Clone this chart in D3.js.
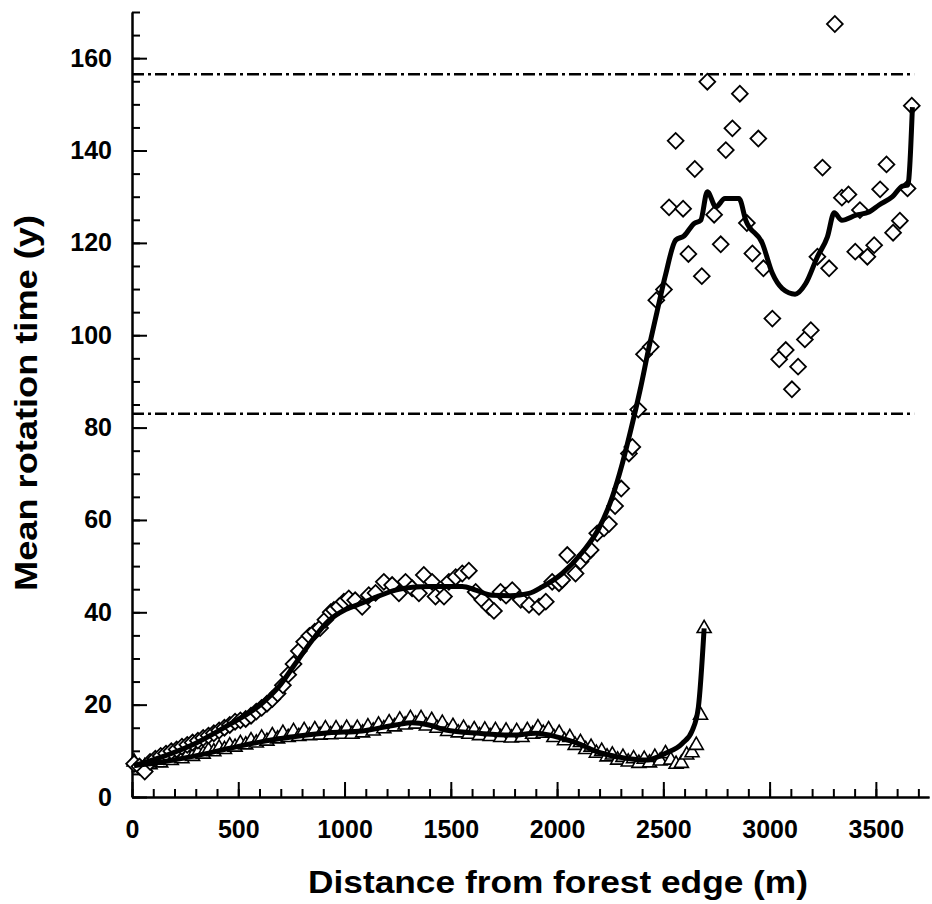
<!DOCTYPE html>
<html>
<head>
<meta charset="utf-8">
<script src="https://cdn.jsdelivr.net/npm/d3@7"></script>
<style>
  body { margin: 0; background: #fff; }
  svg text { font-family: "Liberation Sans", Arial, sans-serif; font-weight: bold; fill: #000; }
</style>
</head>
<body>
<div id="chart"></div>
<script>
// diamonds: upper series
let diamondX = [10, 35, 60, 85, 110, 135, 160, 185, 210, 235, 260, 285, 310, 335, 360, 385, 410, 435, 460, 485,
  510, 535, 560, 585, 610, 635, 660, 685, 710, 735, 760, 785, 810, 835, 860, 885, 910, 935,
  950, 973, 997, 1020, 1050, 1083, 1114, 1146, 1185, 1224, 1256, 1287, 1318, 1350, 1373, 1412, 1428, 1468,
  1491, 1523, 1554, 1585, 1617, 1648, 1680, 1703, 1734, 1760, 1789, 1829, 1868, 1915, 1947, 1977, 2009, 2024,
  2048, 2087, 2110, 2135, 2158, 2189, 2221, 2244, 2273, 2302, 2338, 2354, 2382, 2409, 2441, 2467, 2503, 2527,
  2558, 2593, 2618, 2648, 2681, 2707, 2739, 2770, 2794, 2825, 2860, 2893, 2919, 2947, 2971, 3013, 3045, 3076,
  3105, 3134, 3166, 3194, 3225, 3249, 3280, 3307, 3340, 3371, 3403, 3425, 3460, 3492, 3520, 3550, 3581, 3613,
  3649, 3669]
let diamondY = [7.2, 6.6, 5.5, 7.6, 8.3, 8.9, 9.4, 9.9, 10.3, 10.9, 11.3, 11.8, 12.2, 12.8, 13.3, 13.8, 14.4, 15.0, 15.6, 16.3,
  16.6, 16.9, 17.6, 18.5, 19.3, 20.2, 21.2, 22.4, 24.2, 26.5, 28.8, 31.6, 33.6, 34.9, 35.8, 36.6, 38.4, 40.0,
  40.5, 41.2, 42.3, 43.0, 42.6, 41.2, 43.7, 44.2, 46.6, 45.9, 44.1, 46.6, 45.2, 44.1, 48.1, 46.6, 43.4, 43.4,
  46.6, 47.6, 48.4, 49.0, 44.4, 42.7, 41.2, 40.3, 44.4, 43.6, 44.8, 42.7, 41.6, 41.2, 42.3, 46.6, 46.3, 47.0,
  52.4, 48.4, 51.0, 52.4, 53.5, 57.1, 58.2, 59.1, 63.0, 66.8, 74.4, 75.8, 83.9, 95.9, 97.5, 107.6, 109.9, 127.7,
  142.1, 127.4, 117.6, 136.0, 112.8, 154.9, 126.1, 119.7, 140.1, 144.8, 152.3, 124.3, 117.7, 142.6, 114.5, 103.6, 94.8, 96.8,
  88.3, 93.2, 99.1, 101.1, 117.0, 136.3, 114.5, 167.4, 129.8, 130.5, 118.1, 127.1, 117.0, 119.5, 131.6, 137.0, 122.2, 124.8,
  131.8, 149.7]

// triangles: lower series
let triangleX = [10, 35, 60, 85, 110, 135, 160, 185, 210, 235, 260, 285, 310, 335, 360, 385, 410, 435, 460, 485,
  510, 535, 560, 585, 610, 635, 660, 685, 710, 735, 760, 785, 810, 835, 860, 885, 910, 935, 960, 985,
  1010, 1035, 1060, 1085, 1110, 1135, 1160, 1185, 1210, 1235, 1260, 1285, 1310, 1335, 1360, 1385, 1410, 1435, 1460, 1485,
  1510, 1535, 1560, 1585, 1610, 1635, 1660, 1685, 1710, 1735, 1760, 1785, 1810, 1835, 1860, 1885, 1910, 1935, 1960, 1985,
  2010, 2035, 2060, 2085, 2110, 2135, 2160, 2185, 2210, 2235, 2260, 2285, 2310, 2335, 2360, 2385, 2410, 2435, 2460, 2485,
  2510, 2535, 2560, 2585, 2610, 2635, 2655, 2675, 2692]
let triangleY = [7.6, 6.4, 6.6, 7.0, 7.5, 7.4, 8.0, 7.9, 8.5, 8.3, 9.0, 8.8, 9.5, 9.3, 10.1, 9.8, 10.6, 10.3, 11.1, 10.8,
  11.6, 11.3, 12.2, 11.7, 12.8, 12.1, 13.3, 12.6, 13.8, 12.9, 14.2, 13.1, 14.4, 13.3, 14.6, 13.4, 14.8, 13.5, 14.8, 13.6,
  14.9, 13.6, 14.9, 13.9, 15.2, 14.3, 15.6, 14.8, 16.1, 15.2, 16.7, 15.6, 17.0, 15.8, 17.0, 15.4, 16.6, 14.9, 16.0, 14.2,
  15.3, 13.9, 14.9, 13.6, 14.6, 13.3, 14.5, 13.1, 14.4, 12.9, 14.3, 12.8, 14.2, 12.9, 14.4, 13.6, 15.0, 13.8, 14.6, 12.9,
  13.8, 12.2, 12.9, 11.2, 11.8, 10.3, 10.8, 9.5, 9.9, 8.7, 9.1, 8.0, 8.6, 7.6, 8.3, 7.3, 8.2, 7.4, 8.6, 7.8,
  9.4, 8.0, 7.1, 7.3, 9.1, 9.6, 11.2, 17.7, 36.5]

// fitted curves
let diamondFitX = [10, 141, 298, 455, 612, 691, 769, 847, 926, 1005, 1083, 1160, 1240, 1320, 1397, 1480, 1554, 1617,
  1695, 1780, 1868, 1930, 2024, 2119, 2197, 2260, 2307, 2347, 2390, 2433, 2470, 2510, 2558, 2597, 2645, 2676, 2707,
  2747, 2790, 2856, 2888, 2966, 3013, 3060, 3120, 3170, 3225, 3272, 3304, 3340, 3406, 3468, 3515, 3578, 3625, 3650, 3672]
let diamondFitY = [6.8, 8.7, 11.6, 15.6, 20.3, 23.9, 28.9, 33.9, 38.2, 40.6, 42.0, 43.5, 44.8, 45.4, 45.6, 45.6, 45.6, 44.8,
  43.7, 43.6, 44.1, 45.5, 48.4, 53.0, 58.2, 65.0, 72.2, 79.5, 88.0, 97.5, 105.0, 113.0, 120.6, 121.5, 124.2, 124.9, 131.1,
  127.8, 129.6, 129.6, 124.9, 119.9, 113.4, 110.1, 108.9, 111.2, 117.0, 121.3, 126.5, 124.9, 126.0, 126.7, 128.2, 130.0, 132.3, 132.5, 149.4]
let triangleFitX = [10, 141, 298, 455, 612, 769, 926, 1083, 1240, 1318, 1397, 1476, 1633, 1789, 1899, 2024, 2135,
  2166, 2323, 2417, 2511, 2589, 2637, 2665, 2692]
let triangleFitY = [6.8, 7.6, 8.9, 10.5, 12.0, 13.1, 13.9, 14.3, 15.6, 16.1, 15.6, 14.5, 13.8, 13.4, 13.8, 12.7, 10.9,
  10.2, 8.4, 8.0, 9.5, 11.6, 14.5, 19.5, 36.5]

// dash-dot reference levels
let refLevels = [156.5, 83]
let xMajorTicks = [0, 500, 1000, 1500, 2000, 2500, 3000, 3500]
let yMajorTicks = [0, 20, 40, 60, 80, 100, 120, 140, 160]

let width = 932
let height = 904

let svg = d3.select('#chart')
  .append('svg')
  .attr('width', width)
  .attr('height', height)

let x = d3.scaleLinear().domain([0, 3750]).range([132, 929])
let y = d3.scaleLinear().domain([0, 170]).range([797, 12])

// minor ticks (no labels)
svg.append('g')
  .attr('transform', 'translate(0,797)')
  .call(d3.axisBottom(x).tickValues(d3.range(0, 3751, 100)).tickSize(-8).tickSizeOuter(0).tickFormat(''))
svg.append('g')
  .attr('transform', 'translate(132,0)')
  .call(d3.axisLeft(y).tickValues(d3.range(0, 171, 5)).tickSize(-8).tickSizeOuter(0).tickFormat(''))

// major ticks with labels
svg.append('g')
  .attr('transform', 'translate(0,797)')
  .call(d3.axisBottom(x).tickValues(xMajorTicks).tickSize(-15).tickSizeOuter(0).tickPadding(23).tickFormat(d3.format('d')))
svg.append('g')
  .attr('transform', 'translate(132,0)')
  .call(d3.axisLeft(y).tickValues(yMajorTicks).tickSize(-15).tickSizeOuter(0).tickPadding(20).tickFormat(d3.format('d')))

svg.selectAll('.domain, .tick line')
  .attr('stroke', '#000')
  .attr('stroke-width', 2)
svg.selectAll('.tick text')
  .attr('font-size', 25)
  .attr('font-family', '"Liberation Sans", Arial, sans-serif')
  .attr('font-weight', 'bold')

// reference lines
svg.selectAll('line.ref')
  .data(refLevels)
  .enter().append('line')
  .attr('class', 'ref')
  .attr('x1', x(0))
  .attr('x2', x(3680))
  .attr('y1', d => y(d))
  .attr('y2', d => y(d))
  .attr('stroke', '#000')
  .attr('stroke-width', 2.5)
  .attr('stroke-dasharray', '12,4,3,4')

// points
let tri = d3.symbol().type(d3.symbolTriangle).size(85)
svg.append('g').selectAll('path')
  .data(triangleX)
  .enter().append('path')
  .attr('d', tri)
  .attr('transform', (d, i) => 'translate(' + x(d) + ',' + y(triangleY[i]) + ')')
  .attr('fill', '#fff')
  .attr('stroke', '#000')
  .attr('stroke-width', 1.6)

let dia = d3.symbol().type(d3.symbolSquare).size(125)
svg.append('g').selectAll('path')
  .data(diamondX)
  .enter().append('path')
  .attr('d', dia)
  .attr('transform', (d, i) => 'translate(' + x(d) + ',' + y(diamondY[i]) + ') rotate(45)')
  .attr('fill', '#fff')
  .attr('stroke', '#000')
  .attr('stroke-width', 1.8)

// fitted lines
let fitLine = d3.line()
  .x(d => x(d[0]))
  .y(d => y(d[1]))
  .curve(d3.curveMonotoneX)

svg.append('path')
  .datum(triangleFitX.map((d, i) => [d, triangleFitY[i]]))
  .attr('d', fitLine)
  .attr('fill', 'none')
  .attr('stroke', '#000')
  .attr('stroke-width', 5)
  .attr('stroke-linejoin', 'round')

svg.append('path')
  .datum(diamondFitX.map((d, i) => [d, diamondFitY[i]]))
  .attr('d', fitLine)
  .attr('fill', 'none')
  .attr('stroke', '#000')
  .attr('stroke-width', 5)
  .attr('stroke-linejoin', 'round')

// axis titles
svg.append('text')
  .attr('x', 558)
  .attr('y', 893)
  .attr('text-anchor', 'middle')
  .attr('font-size', 32)
  .attr('textLength', 500)
  .attr('lengthAdjust', 'spacingAndGlyphs')
  .text('Distance from forest edge (m)')

svg.append('text')
  .attr('transform', 'translate(37,403) rotate(-90)')
  .attr('text-anchor', 'middle')
  .attr('font-size', 32)
  .attr('textLength', 376)
  .attr('lengthAdjust', 'spacingAndGlyphs')
  .text('Mean rotation time (y)')
</script>
</body>
</html>
